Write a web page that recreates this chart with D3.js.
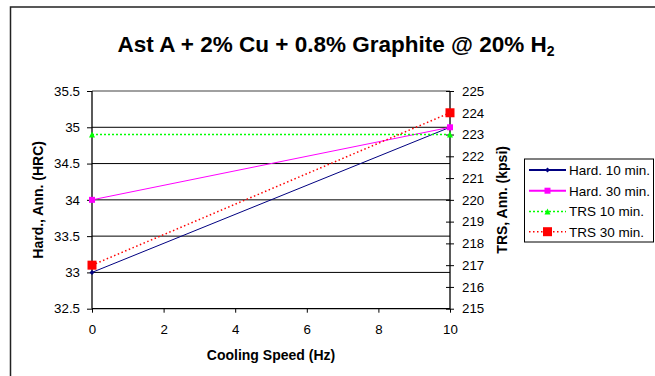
<!DOCTYPE html>
<html>
<head>
<meta charset="utf-8">
<script src="https://cdn.jsdelivr.net/npm/d3@7"></script>
<style>
body{margin:0;background:#fff}
svg{display:block;font-family:"Liberation Sans",Arial,sans-serif}
</style>
</head>
<body>
<svg id="chart" width="655" height="376"></svg>
<script>
var speeds = [0, 10];
var hard10 = [33, 35];
var hard30 = [34, 35];
var trs10 = [223, 223];
var trs30 = [217, 224];
var xTicks = [0, 2, 4, 6, 8, 10];
var leftTicks = [32.5, 33, 33.5, 34, 34.5, 35, 35.5];
var rightTicks = [215, 216, 217, 218, 219, 220, 221, 222, 223, 224, 225];

var series = [
  {name: "Hard. 10 min.", vals: hard10, axis: "left", color: "#000080", dash: null, width: 1, marker: "diamond", size: 5},
  {name: "Hard. 30 min.", vals: hard30, axis: "left", color: "#ff00ff", dash: null, width: 1, marker: "square", size: 6},
  {name: "TRS 10 min.", vals: trs10, axis: "right", color: "#00ff00", dash: "2,2", width: 1.5, marker: "triangle", size: 6},
  {name: "TRS 30 min.", vals: trs30, axis: "right", color: "#ff0000", dash: "1.5,2.5", width: 1.5, marker: "square", size: 9}
];

var svg = d3.select("#chart");
var L = 92, R = 450, T = 91, B = 308.7;

var x = d3.scaleLinear().domain([0, 10]).range([L, R]);
var yL = d3.scaleLinear().domain([32.5, 35.5]).range([B, T]);
var yR = d3.scaleLinear().domain([215, 225]).range([B, T]);

// outer frame
svg.append("rect").attr("x", 10.5).attr("y", 7).attr("width", 700).attr("height", 400)
  .attr("fill", "none").attr("stroke", "#222").attr("stroke-width", 1.5);

// title
var title = svg.append("text").attr("x", 336).attr("y", 52).attr("text-anchor", "middle")
  .attr("font-size", 22.5).attr("font-weight", "bold").attr("fill", "#000");
title.append("tspan").text("Ast A + 2% Cu + 0.8% Graphite @ 20% H");
title.append("tspan").attr("font-size", 14).attr("dy", 4).text("2");

// gridlines
svg.append("g").selectAll("line").data(leftTicks.slice(1, -1)).join("line")
  .attr("x1", L).attr("x2", R).attr("y1", d => yL(d)).attr("y2", d => yL(d))
  .attr("stroke", "#000").attr("stroke-width", 1);
svg.append("line").attr("x1", L).attr("x2", R).attr("y1", T).attr("y2", T)
  .attr("stroke", "#808080").attr("stroke-width", 1.5);

// axes
var fs = 13.3;
var gL = svg.append("g").attr("transform", "translate(" + L + ",0)")
  .call(d3.axisLeft(yL).tickValues(leftTicks).tickSize(5).tickPadding(7).tickFormat(d3.format("")));
var gR = svg.append("g").attr("transform", "translate(" + R + ",0)")
  .call(d3.axisRight(yR).tickValues(rightTicks).tickSize(4).tickPadding(8).tickFormat(d3.format("")));
gR.selectAll(".tick line").attr("x1", -4);
var gX = svg.append("g").attr("transform", "translate(0," + B + ")")
  .call(d3.axisBottom(x).tickValues(xTicks).tickSize(4).tickPadding(12).tickFormat(d3.format("")));
[gL, gR, gX].forEach(function(g){
  g.select(".domain").attr("stroke", "#000").attr("stroke-width", 1.3);
  g.selectAll(".tick line").attr("stroke", "#000").attr("stroke-width", 1);
  g.selectAll("text").attr("font-size", fs).attr("font-family", "Liberation Sans, Arial, sans-serif").attr("fill", "#000");
});
gL.select(".domain").attr("d", "M0," + T + "V" + B);
gR.select(".domain").attr("d", "M0," + T + "V" + B);
gX.select(".domain").attr("d", "M" + L + ",0H" + R);

// axis titles
svg.append("text").attr("x", (L + R) / 2).attr("y", 360).attr("text-anchor", "middle")
  .attr("font-size", 14).attr("font-weight", "bold").text("Cooling Speed (Hz)");
svg.append("text").attr("transform", "translate(43," + (T + B) / 2 + ") rotate(-90)")
  .attr("text-anchor", "middle").attr("font-size", 14).attr("font-weight", "bold").text("Hard., Ann. (HRC)");
svg.append("text").attr("transform", "translate(507," + (T + B) / 2 + ") rotate(-90)")
  .attr("text-anchor", "middle").attr("font-size", 14).attr("font-weight", "bold").text("TRS, Ann. (kpsi)");

function markerPath(type, s) {
  var h = s / 2;
  if (type === "diamond") return "M0," + (-h) + "L" + h + ",0L0," + h + "L" + (-h) + ",0Z";
  if (type === "triangle") return "M0," + (-h) + "L" + h + "," + h + "L" + (-h) + "," + h + "Z";
  return "M" + (-h) + "," + (-h) + "H" + h + "V" + h + "H" + (-h) + "Z";
}

// series
series.forEach(function(s){
  var yS = s.axis === "left" ? yL : yR;
  var pts = speeds.map((v, i) => [x(v), yS(s.vals[i])]);
  svg.append("path").attr("d", d3.line()(pts)).attr("fill", "none")
    .attr("stroke", s.color).attr("stroke-width", s.width).attr("stroke-dasharray", s.dash);
  svg.append("g").selectAll("path").data(pts).join("path")
    .attr("transform", d => "translate(" + d[0] + "," + d[1] + ")")
    .attr("d", markerPath(s.marker, s.size)).attr("fill", s.color);
});

// legend
var lg = svg.append("g");
lg.append("rect").attr("x", 524.5).attr("y", 159).attr("width", 129).attr("height", 83)
  .attr("fill", "#fff").attr("stroke", "#000").attr("stroke-width", 1);
var rowY = [170, 190.7, 211.5, 231.7];
series.forEach(function(s, i){
  var y = rowY[i];
  lg.append("line").attr("x1", 529).attr("x2", 566).attr("y1", y).attr("y2", y)
    .attr("stroke", s.color).attr("stroke-width", s.dash ? 1.5 : 2).attr("stroke-dasharray", s.dash);
  lg.append("path").attr("transform", "translate(547.5," + y + ")")
    .attr("d", markerPath(s.marker, s.size)).attr("fill", s.color);
  lg.append("text").attr("x", 569).attr("y", y + 4.8).attr("font-size", 13.5).attr("fill", "#000").text(s.name);
});
</script>
</body>
</html>
